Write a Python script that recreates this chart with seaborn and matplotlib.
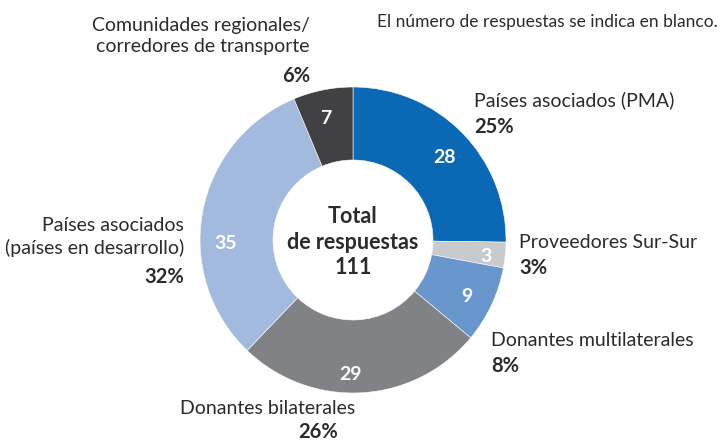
import seaborn as sns
import matplotlib.pyplot as plt

# categories in clockwise order from 12 o'clock
categories = ["Países asociados (PMA)", "Proveedores Sur-Sur", "Donantes multilaterales",
              "Donantes bilaterales", "Países asociados\n(países en desarrollo)",
              "Comunidades regionales/\ncorredores de transporte"]
responses = [28, 3, 9, 29, 35, 7]
colors = ["#0a68b4", "#c9cacb", "#6996cd", "#808285", "#a3badf", "#414143"]
total = sum(responses)

sns.set_style("white")
plt.rcParams['font.family'] = ['Lato', 'DejaVu Sans']

fig = plt.figure(figsize=(7.22, 4.44), dpi=100)
ax = fig.add_axes([0, 0, 1, 1])

# y axis runs downwards, so counterclock=True draws clockwise on screen
wedges, _ = ax.pie(responses, colors=colors, startangle=-90, counterclock=True,
                   radius=153, center=(353, 240), frame=True,
                   wedgeprops=dict(width=73, edgecolor="white", linewidth=0.4))
ax.set_xlim(0, 722)
ax.set_ylim(444, 0)
ax.set_aspect("equal")
ax.axis("off")

# white counts inside the ring
count_pos = [(444, 157), (486, 256), (467, 296), (350, 374), (226, 243), (326, 118)]
for (x, y), n in zip(count_pos, responses):
    ax.text(x, y, str(n), color="white", fontsize=14, fontweight="bold",
            ha="center", va="center")

# outside labels with percentages
pct = [f"{round(n / total * 100)}%" for n in responses]
label_pos = [(474, 100, "left"), (519, 242, "left"), (491, 340, "left"),
             (268, 409, "center"), (184, 237, "right"), (310, 36, "right")]
pct_pos = [(474, 127), (519, 268), (491, 366), (318, 432), (184, 277), (310, 76)]
text_c = "#2b2b2b"
for i, (x, y, ha) in enumerate(label_pos):
    ax.text(x, y, categories[i], color=text_c, fontsize=14,
            ha=ha, va="center", linespacing=1.35)
    px, py = pct_pos[i]
    ax.text(px, py, pct[i], color=text_c, fontsize=14.5, fontweight="bold",
            ha=ha, va="center")

ax.text(353, 242, f"Total\nde respuestas\n{total}", color=text_c, fontsize=15.5,
        fontweight="bold", ha="center", va="center", linespacing=1.25)
ax.text(718, 22, "El número de respuestas se indica en blanco.", color=text_c,
        fontsize=12.5, ha="right", va="center")

fig.savefig("out.png", dpi=100)
